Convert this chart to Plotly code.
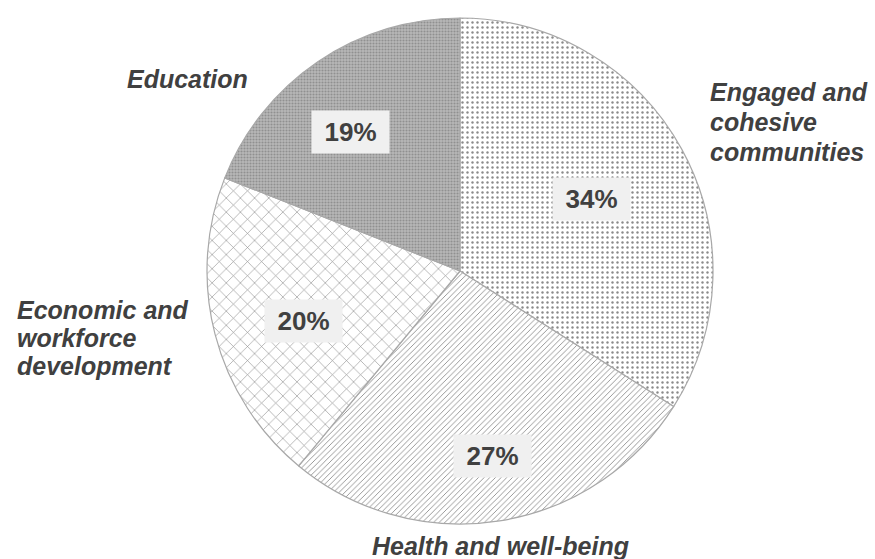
import math
import plotly.graph_objects as go

# ---- data ----
categories = ["Engaged and cohesive communities", "Health and well-being",
              "Economic and workforce development", "Education"]
values = [34, 27, 20, 19]
pct_labels = ["34%", "27%", "20%", "19%"]
outer_label_lines = [["Engaged and", "cohesive", "communities"],
                     ["Health and well-being"],
                     ["Economic and", "workforce", "development"],
                     ["Education"]]

# ---- styles ----
W, H = 875, 559
CX, CY, R = 460, 271, 253
pattern_shapes = [".", "/", "x", "."]
pattern_bg = ["white", "white", "white", "#b8b8b8"]
pattern_fg = ["#8a8a8a", "#8c8c8c", "#8e8e8e", "#909090"]
pattern_size = [5, 4, 10, 3]
pattern_solid = [0.18, 0.22, 0.12, 0.4]
label_radial = [0.77, 0.83, 0.80, 0.77]
# outer label: (x px, first line center y px, line step px, anchor)
outer_pos = [(708, 92, 30, "left"), (500, 546, 0, "center"),
             (15, 310, 28, "left"), (250, 79, 0, "right")]

fig = go.Figure(go.Pie(
    labels=categories, values=values, sort=False, direction="clockwise",
    rotation=0, textinfo="none", hoverinfo="label+percent", showlegend=False,
    domain=dict(x=[(CX - R) / W, (CX + R) / W],
                y=[(H - CY - R) / H, (H - CY + R) / H]),
    marker=dict(colors=pattern_bg,
                line=dict(color="#a8a8a8", width=1.2),
                pattern=dict(shape=pattern_shapes, fgcolor=pattern_fg,
                             bgcolor=pattern_bg, size=pattern_size,
                             solidity=pattern_solid, fillmode="replace")),
))

FONT = "Liberation Sans, Arial, sans-serif"
annotations = []
total = sum(values)
cum = 0
for i, v in enumerate(values):
    mid = (cum + v / 2) / total * 2 * math.pi
    cum += v
    px = CX + R * label_radial[i] * math.sin(mid)
    py = CY - R * label_radial[i] * math.cos(mid)
    annotations.append(dict(
        x=px / W, y=1 - py / H, xref="paper", yref="paper",
        text=pct_labels[i], showarrow=False, width=77, height=42,
        bgcolor="#f0f0f0", borderpad=0,
        font=dict(family=FONT, size=26, color="#404040", weight="bold")))

for i, lines in enumerate(outer_label_lines):
    x, y0, step, anchor = outer_pos[i]
    for j, line in enumerate(lines):
        annotations.append(dict(
            x=x / W, y=1 - (y0 + j * step) / H, xref="paper", yref="paper",
            text=line, showarrow=False, xanchor=anchor, yanchor="middle",
            font=dict(family=FONT, size=25, color="#404040",
                      weight="bold", style="italic")))

fig.update_layout(width=W, height=H, margin=dict(l=0, r=0, t=0, b=0),
                  paper_bgcolor="white", plot_bgcolor="white",
                  annotations=annotations)

fig.write_html("out.html", config={"displayModeBar": False},
               post_script="document.body.style.margin='0';"
                           "document.body.style.overflow='hidden';")
